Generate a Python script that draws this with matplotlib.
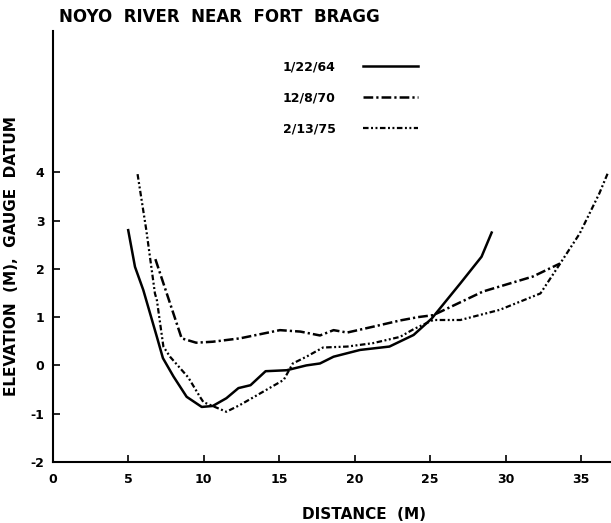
import numpy as np
import matplotlib
matplotlib.use("Agg")
import matplotlib.pyplot as plt

# cross sections (distance m, elevation m)
x_64 = [5.0, 5.45, 6.0, 6.9, 7.3, 8.0, 8.87, 9.87, 10.6, 11.5, 12.3, 13.1, 14.1, 15.5,
        16.8, 17.7, 18.6, 20.35, 22.3, 23.9, 25.1, 27.0, 28.4, 29.07]
y_64 = [2.8, 2.04, 1.56, 0.59, 0.15, -0.23, -0.65, -0.86, -0.84, -0.68, -0.47, -0.41, -0.12, -0.1,
        0.0, 0.04, 0.18, 0.32, 0.39, 0.63, 0.97, 1.70, 2.25, 2.75]

x_70 = [6.8, 8.54, 9.5, 10.6, 12.4, 15.05, 16.4, 17.7, 18.6, 19.5, 21.2, 23.0, 24.2,
        25.2, 28.5, 31.8, 33.6]
y_70 = [2.2, 0.56, 0.47, 0.49, 0.56, 0.73, 0.70, 0.62, 0.73, 0.68, 0.80, 0.93, 1.0,
        1.04, 1.53, 1.84, 2.11]

x_75 = [5.62, 6.2, 6.77, 6.9, 7.33, 7.77, 8.98, 9.75, 9.98, 11.5, 12.4, 15.3, 15.9,
        16.8, 17.9, 19.5, 21.2, 23.0, 23.9, 25.2, 27.0, 29.6, 32.3, 33.4, 34.9, 36.2, 36.8]
y_75 = [3.96, 2.8, 1.49, 1.35, 0.39, 0.18, -0.25, -0.65, -0.76, -0.96, -0.82, -0.30, 0.04,
        0.18, 0.37, 0.39, 0.46, 0.59, 0.75, 0.94, 0.94, 1.15, 1.49, 2.01, 2.73, 3.56, 4.01]

x_ticks = [0, 5, 10, 15, 20, 25, 30, 35]
y_ticks = [-2, -1, 0, 1, 2, 3, 4]

plt.rcParams['font.family'] = 'DejaVu Sans'
plt.rcParams['font.weight'] = 'bold'
plt.rcParams['axes.unicode_minus'] = False
plt.rcParams['lines.scale_dashes'] = False

fig = plt.figure(figsize=(6.11, 5.23), dpi=100)
W, H = 611, 523
x0, x1, yb, yt = 52.7, 610, 462, 31
ax = fig.add_axes([x0 / W, 1 - yb / H, (x1 - x0) / W, (yb - yt) / H])

ax.plot(x_64, y_64, color='black', lw=1.8, label='1/22/64')
ax.plot(x_70, y_70, color='black', lw=1.8, dashes=(7, 2.2, 1.6, 2.2), label='12/8/70')
ax.plot(x_75, y_75, color='black', lw=1.6, dashes=(4, 1.8, 1.4, 1.8, 1.4, 1.8), label='2/13/75')

ax.set_xlim(0, (x1 - x0) / 15.1)
ax.set_ylim(-2, -2 + (yb - yt) / 48.3)
ax.set_xticks(x_ticks)
ax.set_yticks(y_ticks)
ax.spines['top'].set_visible(False)
ax.spines['right'].set_visible(False)
for s in ['left', 'bottom']:
    ax.spines[s].set_linewidth(1.5)
ax.tick_params(direction='in', length=5, width=1.2, labelsize=9, pad=6)
ax.tick_params(axis='x', pad=8)

ax.set_xlabel('DISTANCE  (M)', fontsize=11, fontweight='bold')
ax.xaxis.set_label_coords((364 - x0) / (x1 - x0), (yb - 507) / (yb - yt))
ax.set_ylabel('ELEVATION  (M),  GAUGE  DATUM', fontsize=11, fontweight='bold')
ax.yaxis.set_label_coords((19 - x0) / (x1 - x0), (yb - 256) / (yb - yt))

fig.text(59 / W, 1 - 17 / H, 'NOYO  RIVER  NEAR  FORT  BRAGG', fontsize=12,
         fontweight='bold', ha='left', va='center')

leg = ax.legend(loc='upper left', bbox_to_anchor=((278 - x0) / (x1 - x0), (yb - 55) / (yb - yt)),
                frameon=False, markerfirst=False, fontsize=9, handlelength=4.4,
                handletextpad=2.2, labelspacing=1.45, borderaxespad=0)

fig.savefig('out.png', dpi=100)
